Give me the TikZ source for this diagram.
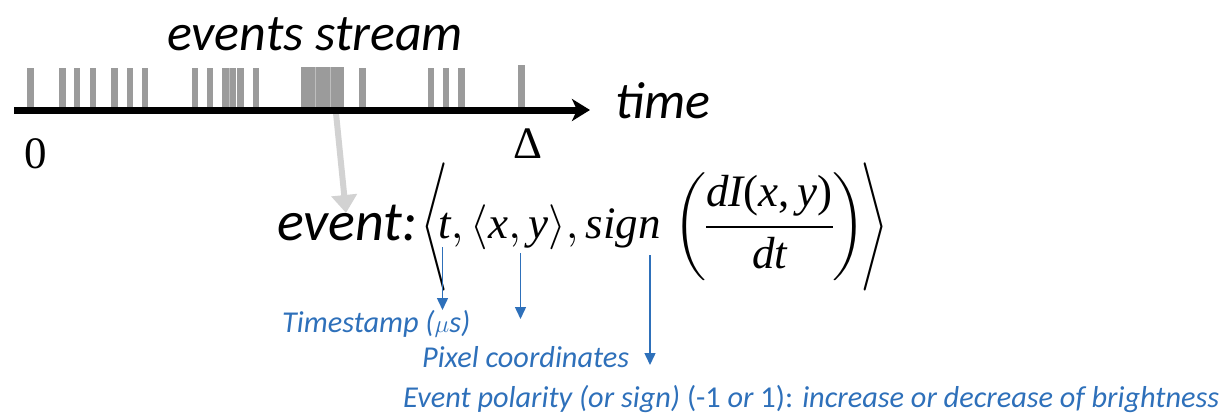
\documentclass[tikz,border=0pt]{standalone}
\usepackage{fontspec}
\setmainfont{Carlito}
\newfontfamily\serifnum{Liberation Serif}
\usetikzlibrary{arrows.meta}
\definecolor{bargray}{RGB}{155,155,155}
\definecolor{sepgray}{RGB}{190,190,190}
\definecolor{arrowgray}{RGB}{210,210,210}
\definecolor{lblblue}{RGB}{46,112,186}
\newcommand{\mv}[1]{\mbox{\serifnum\itshape #1}}
\newcommand{\mup}[1]{\mbox{\serifnum #1}}
\newcommand{\tallangle}[2]{#1{\vcenter{\hbox{\scalebox{0.75}[0.95]{$\Bigg#2$}}}}}
\begin{document}
\begin{tikzpicture}[x=1pt,y=-1pt,
  bar/.style={fill=bargray, draw=none},
  lbl/.style={anchor=base west, inner sep=0pt, text=lblblue, font=\fontsize{30.3}{36}\selectfont},
  bigtext/.style={anchor=base west, inner sep=0pt, font=\fontsize{52}{60}\selectfont\itshape},
  serifmark/.style={anchor=base, inner sep=0pt, font=\serifnum\fontsize{45}{50}\selectfont},
  callout/.style={draw=lblblue, line width=1.5pt, -{Triangle[length=12pt,width=11pt]}},
]
\useasboundingbox (0,0) rectangle (1229,415);
% bars
\foreach \c in {30.5,62.7,77,93,114.5,130,145,195,210,240.5,256,362.5,431,446,461.5}
  \fill[bar] (\c-3.4,68) rectangle (\c+3.4,110);
\fill[bar] (222,68) rectangle (236,110);
\draw[sepgray, line width=0.8pt] (229,68) -- (229,110);
\fill[bar] (301,67) rectangle (344,110);
\draw[sepgray, line width=0.8pt] (315.5,67) -- (315.5,110) (330.5,67) -- (330.5,110);
\fill[bar] (518,65) rectangle (525,110);
% gray pointer
\coordinate (gS) at (336,113);
\coordinate (gE) at (346,213);
\draw[arrowgray, line width=6pt, -{Triangle[length=18pt,width=25pt]}] (gS) -- (gE);
% axis
\coordinate (ax0) at (14,110);
\coordinate (ax1) at (590,110);
\draw[line width=7pt, -{Stealth[length=18pt,width=22pt,inset=5pt]}] (ax0) -- (ax1);
% texts
\node[bigtext] (es) at (167,50) {events stream};
\node[bigtext] (tm) at (615,118) {time};
\node[serifmark] (zero) at (36,168) {0};
\node[serifmark] (delta) at (527.5,158) {Δ};
\node[anchor=base west, inner sep=0pt, font=\fontsize{56}{62}\selectfont\itshape] (ev) at (277,240) {event:};
\node[anchor=base west, inner sep=0pt] (fm) at (421,238)
  {\scalebox{4.5}{\nulldelimiterspace=0pt$\displaystyle \tallangle{\mathopen}{\langle}\mskip-4mu\mv{t}, \langle \mv{x}, \mv{y}\rangle, \mv{sign}\mskip2mu\left(\frac{\mv{dI}\mup{(}\mv{x}\mup{,}\,\mv{y}\mup{)}\rule[-3.2pt]{0pt}{3.2pt}}{\mv{dt}}\right)\mskip-2mu\tallangle{\mathclose}{\rangle}$}};
% callouts
\coordinate (tS) at (442.5,247);
\coordinate (tE) at (442.5,310);
\coordinate (xS) at (520.5,253);
\coordinate (xE) at (520.5,319);
\coordinate (sS) at (650,255);
\coordinate (sE) at (650,365);
\draw[callout] (tS) -- (tE);
\draw[callout] (xS) -- (xE);
\draw[callout] (sS) -- (sE);
\node[lbl] (ts) at (282,332) {\itshape Timestamp ($\mu$s)};
\node[lbl] (pc) at (422,367) {\itshape Pixel coordinates};
\node[lbl] (ep) at (403,407) {\itshape Event polarity (or sign) \upshape(-1 \itshape or \upshape 1): \itshape increase or decrease of brightness};
\end{tikzpicture}
\end{document}
